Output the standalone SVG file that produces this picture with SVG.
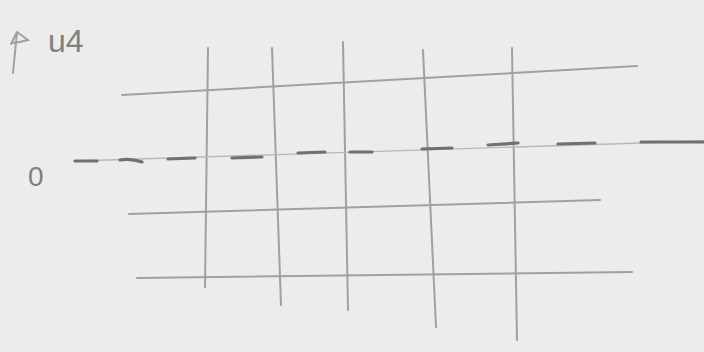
<svg xmlns="http://www.w3.org/2000/svg" width="704" height="352" viewBox="0 0 704 352">
<style>
.pen{fill:none;stroke:#a0a0a0;stroke-width:2;stroke-linecap:round}
.dash{fill:none;stroke:#707070;stroke-width:3.2;stroke-linecap:round}
.faint{fill:none;stroke:#b8b8b8;stroke-width:1.3}
.lbl{font-family:"Liberation Sans",sans-serif;fill:#808080}
</style>
<rect width="704" height="352" fill="#ececec"/>
<g id="grid">
<path class="pen" d="M122,95 L637,66"/>
<path class="pen" d="M129,214 L600,200"/>
<path class="pen" d="M137,278 L632,272"/>
<path class="pen" d="M208,48 L205,287"/>
<path class="pen" d="M272,48 L281,305"/>
<path class="pen" d="M343,42 L348,310"/>
<path class="pen" d="M423,50 L436,327"/>
<path class="pen" d="M512,48 L517,340"/>
</g>
<g id="zero-line">
<path class="faint" d="M75,161 L704,141"/>
<path class="dash" d="M75,161 L97,161 M120,160 Q130,158 142,162 M168,159 L195,158 M232,158 L262,157 M298,153 L325,152 M350,152 L372,152 M422,149 L452,148 M488,145 L518,143 M558,144 L595,143 M641,142 L704,142"/>
</g>
<g id="labels">
<text class="lbl" x="28" y="186" font-size="28">0</text>
<text class="lbl" x="48" y="52" font-size="32">u4</text>
<path class="pen" d="M17,32 L13,73 M17,32 L11,44 M17,32 L28,40 Q21,42 13,43"/>
</g>
</svg>
